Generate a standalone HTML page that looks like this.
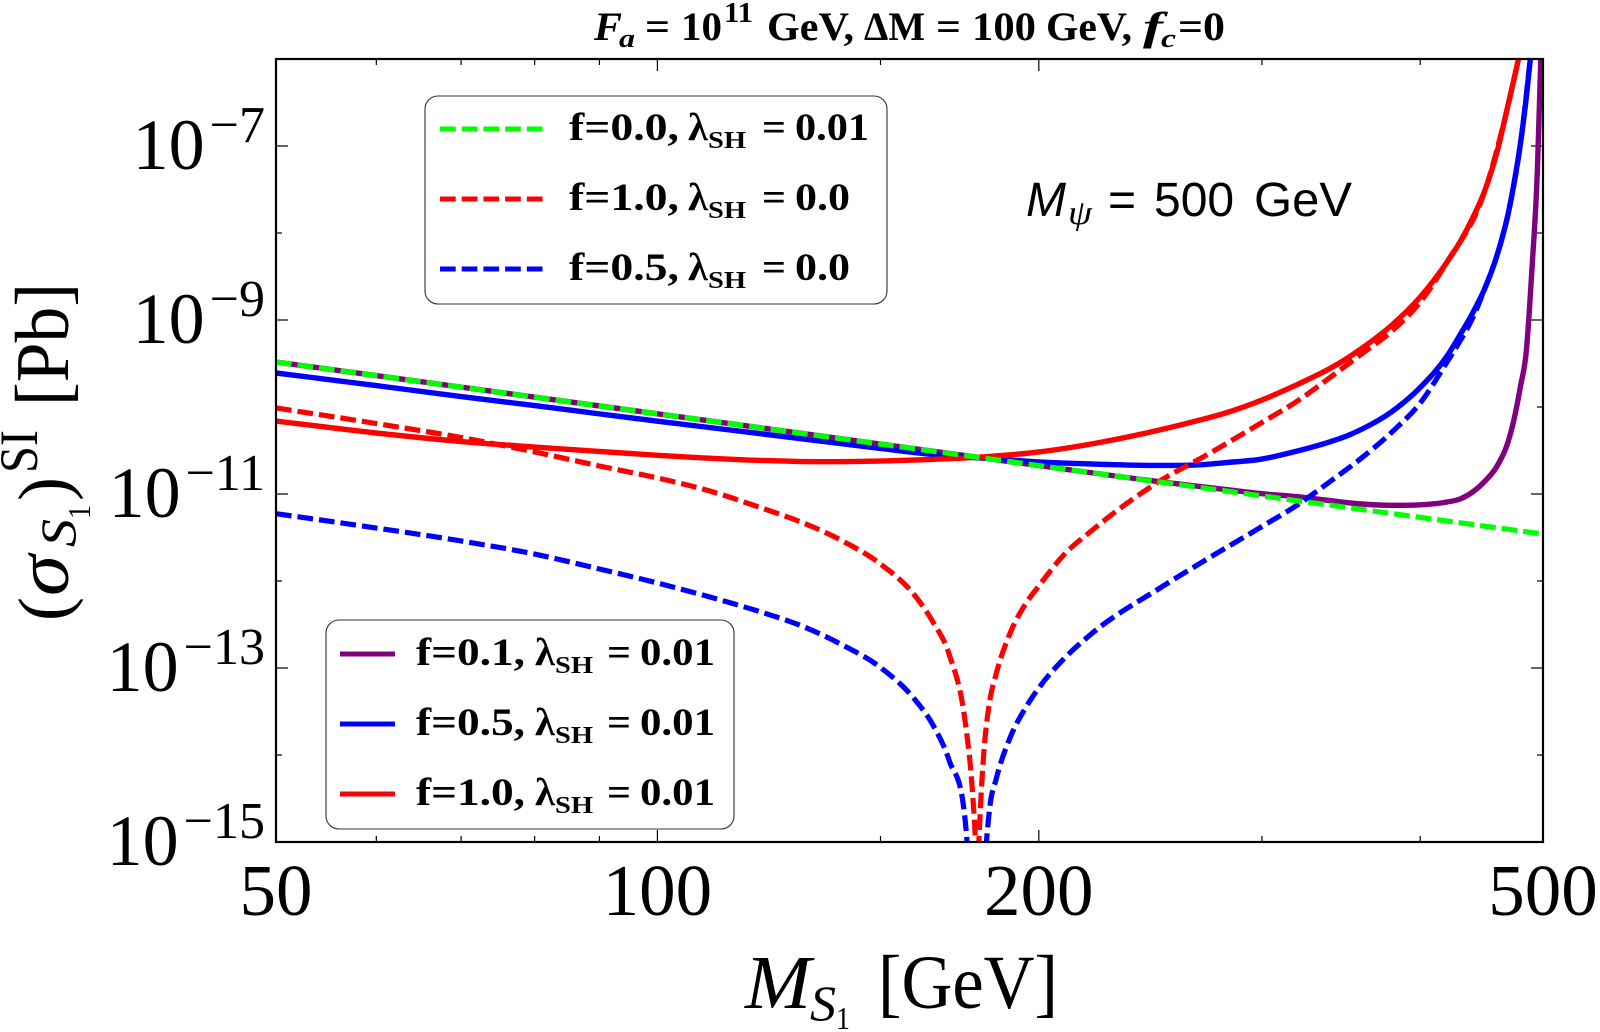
<!DOCTYPE html>
<html lang="en">
<head>
<meta charset="utf-8">
<title>Spin-independent cross section versus scalar mass</title>
<style>
html,body{margin:0;padding:0;background:#fff;width:1600px;height:1032px;overflow:hidden}
svg{display:block}
text{font-family:"Liberation Serif","DejaVu Serif",serif;fill:#000}
.b{font-weight:bold}
.i{font-style:italic}
.s{font-family:"Liberation Sans","DejaVu Sans",sans-serif}
</style>
</head>
<body>
<svg id="chart" xmlns="http://www.w3.org/2000/svg" width="1600" height="1032" viewBox="0 0 1600 1032">
  <rect width="1600" height="1032" fill="#fff"/>
  <defs><clipPath id="plot-clip"><rect x="276" y="59" width="1267" height="783"/></clipPath></defs>

  <g font-size="40">
    <text class="b i" x="594" y="40" textLength="28" lengthAdjust="spacingAndGlyphs">F</text>
    <text class="b i" x="619" y="47" font-size="26" textLength="16" lengthAdjust="spacingAndGlyphs">a</text>
    <text class="b" x="645" y="40" textLength="25" lengthAdjust="spacingAndGlyphs">=</text>
    <text class="b" x="681" y="40" textLength="41" lengthAdjust="spacingAndGlyphs">10</text>
    <text class="b" x="724" y="22" font-size="29" textLength="29" lengthAdjust="spacingAndGlyphs">11</text>
    <text class="b" x="767" y="40" textLength="87" lengthAdjust="spacingAndGlyphs">GeV,</text>
    <text class="b" x="864" y="40" textLength="61" lengthAdjust="spacingAndGlyphs">ΔM</text>
    <text class="b" x="936" y="40" textLength="25" lengthAdjust="spacingAndGlyphs">=</text>
    <text class="b" x="972" y="40" textLength="64" lengthAdjust="spacingAndGlyphs">100</text>
    <text class="b" x="1046" y="40" textLength="86" lengthAdjust="spacingAndGlyphs">GeV,</text>
    <text class="b i" x="1143" y="40" textLength="20" lengthAdjust="spacingAndGlyphs">f</text>
    <text class="b i" x="1161" y="47" font-size="26" textLength="15" lengthAdjust="spacingAndGlyphs">c</text>
    <text class="b" x="1178" y="40" textLength="47" lengthAdjust="spacingAndGlyphs">=0</text>
  </g>

  <g id="ticks"></g>
  <g id="tick-labels"></g>
  <g id="curves" clip-path="url(#plot-clip)" fill="none"></g>
  <rect x="276" y="59" width="1267" height="783" fill="none" stroke="#000" stroke-width="2.2"/>

  <g>
    <text class="i" x="745" y="1008" font-size="76" textLength="66" lengthAdjust="spacingAndGlyphs">M</text>
    <text class="i" x="810" y="1020" font-size="50" textLength="26" lengthAdjust="spacingAndGlyphs">S</text>
    <text x="836" y="1029" font-size="32" textLength="14" lengthAdjust="spacingAndGlyphs">1</text>
    <text x="878" y="1008" font-size="76" textLength="180" lengthAdjust="spacingAndGlyphs">[GeV]</text>
  </g>

  <g>
    <text transform="translate(68,621) rotate(-90)" font-size="72">(</text>
    <text class="i" transform="translate(68,596) rotate(-90)" font-size="76" textLength="41" lengthAdjust="spacingAndGlyphs">σ</text>
    <text class="i" transform="translate(75,547) rotate(-90)" font-size="50" textLength="28" lengthAdjust="spacingAndGlyphs">S</text>
    <text transform="translate(90,519) rotate(-90)" font-size="32" textLength="14" lengthAdjust="spacingAndGlyphs">1</text>
    <text transform="translate(68,501) rotate(-90)" font-size="72">)</text>
    <text transform="translate(37,473) rotate(-90)" font-size="54" textLength="43" lengthAdjust="spacingAndGlyphs">SI</text>
    <text transform="translate(68,406) rotate(-90)" font-size="76" textLength="123" lengthAdjust="spacingAndGlyphs">[Pb]</text>
  </g>

  <g>
    <rect x="425" y="96" width="462" height="208" rx="13" fill="#fff" stroke="#333" stroke-width="1.1"/>
    <g>
      <line x1="440" x2="545" y1="129" y2="129" stroke="#00ff00" stroke-width="5" stroke-dasharray="15.7 6"/>
      <text class="b" x="569" y="140" font-size="39" textLength="110" lengthAdjust="spacingAndGlyphs">f=0.0,</text>
      <text class="b" x="688" y="140" font-size="39" textLength="20" lengthAdjust="spacingAndGlyphs">λ</text>
      <text class="b" x="708" y="148" font-size="24" textLength="38" lengthAdjust="spacingAndGlyphs">SH</text>
      <text class="b" x="762" y="140" font-size="39" textLength="24" lengthAdjust="spacingAndGlyphs">=</text>
      <text class="b" x="795" y="140" font-size="39" textLength="74" lengthAdjust="spacingAndGlyphs">0.01</text>
    </g>
    <g>
      <line x1="440" x2="545" y1="199" y2="199" stroke="#ff0000" stroke-width="5" stroke-dasharray="15.7 6"/>
      <text class="b" x="569" y="210" font-size="39" textLength="110" lengthAdjust="spacingAndGlyphs">f=1.0,</text>
      <text class="b" x="688" y="210" font-size="39" textLength="20" lengthAdjust="spacingAndGlyphs">λ</text>
      <text class="b" x="708" y="218" font-size="24" textLength="38" lengthAdjust="spacingAndGlyphs">SH</text>
      <text class="b" x="762" y="210" font-size="39" textLength="24" lengthAdjust="spacingAndGlyphs">=</text>
      <text class="b" x="795" y="210" font-size="39" textLength="55" lengthAdjust="spacingAndGlyphs">0.0</text>
    </g>
    <g>
      <line x1="440" x2="545" y1="269" y2="269" stroke="#0000ff" stroke-width="5" stroke-dasharray="15.7 6"/>
      <text class="b" x="569" y="280" font-size="39" textLength="110" lengthAdjust="spacingAndGlyphs">f=0.5,</text>
      <text class="b" x="688" y="280" font-size="39" textLength="20" lengthAdjust="spacingAndGlyphs">λ</text>
      <text class="b" x="708" y="288" font-size="24" textLength="38" lengthAdjust="spacingAndGlyphs">SH</text>
      <text class="b" x="762" y="280" font-size="39" textLength="24" lengthAdjust="spacingAndGlyphs">=</text>
      <text class="b" x="795" y="280" font-size="39" textLength="55" lengthAdjust="spacingAndGlyphs">0.0</text>
    </g>
  </g>

  <g>
    <rect x="326" y="620" width="408" height="209" rx="13" fill="#fff" stroke="#333" stroke-width="1.1"/>
    <g>
      <line x1="340" x2="395" y1="654" y2="654" stroke="#800080" stroke-width="5"/>
      <text class="b" x="416" y="665" font-size="39" textLength="109" lengthAdjust="spacingAndGlyphs">f=0.1,</text>
      <text class="b" x="535" y="665" font-size="39" textLength="20" lengthAdjust="spacingAndGlyphs">λ</text>
      <text class="b" x="555" y="673" font-size="24" textLength="38" lengthAdjust="spacingAndGlyphs">SH</text>
      <text class="b" x="607" y="665" font-size="39" textLength="24" lengthAdjust="spacingAndGlyphs">=</text>
      <text class="b" x="640" y="665" font-size="39" textLength="75" lengthAdjust="spacingAndGlyphs">0.01</text>
    </g>
    <g>
      <line x1="340" x2="395" y1="724" y2="724" stroke="#0000ff" stroke-width="5"/>
      <text class="b" x="416" y="735" font-size="39" textLength="109" lengthAdjust="spacingAndGlyphs">f=0.5,</text>
      <text class="b" x="535" y="735" font-size="39" textLength="20" lengthAdjust="spacingAndGlyphs">λ</text>
      <text class="b" x="555" y="743" font-size="24" textLength="38" lengthAdjust="spacingAndGlyphs">SH</text>
      <text class="b" x="607" y="735" font-size="39" textLength="24" lengthAdjust="spacingAndGlyphs">=</text>
      <text class="b" x="640" y="735" font-size="39" textLength="75" lengthAdjust="spacingAndGlyphs">0.01</text>
    </g>
    <g>
      <line x1="340" x2="395" y1="794" y2="794" stroke="#ff0000" stroke-width="5"/>
      <text class="b" x="416" y="805" font-size="39" textLength="109" lengthAdjust="spacingAndGlyphs">f=1.0,</text>
      <text class="b" x="535" y="805" font-size="39" textLength="20" lengthAdjust="spacingAndGlyphs">λ</text>
      <text class="b" x="555" y="813" font-size="24" textLength="38" lengthAdjust="spacingAndGlyphs">SH</text>
      <text class="b" x="607" y="805" font-size="39" textLength="24" lengthAdjust="spacingAndGlyphs">=</text>
      <text class="b" x="640" y="805" font-size="39" textLength="75" lengthAdjust="spacingAndGlyphs">0.01</text>
    </g>
  </g>

  <g>
    <text class="s i" x="1026" y="216" font-size="48">M</text>
    <text class="i" x="1068" y="224" font-size="34" textLength="24" lengthAdjust="spacingAndGlyphs">ψ</text>
    <text class="s" x="1108" y="216" font-size="48">=</text>
    <text class="s" x="1154" y="216" font-size="48">500</text>
    <text class="s" x="1254" y="216" font-size="48" textLength="98" lengthAdjust="spacingAndGlyphs">GeV</text>
  </g>
</svg>

<script>
// Axis tick values
const xMajorTicks = [100, 200];
const xMinorTicks = [60, 70, 80, 90, 150, 300, 400];
const xTickLabels = [50, 100, 200, 500];
const yMajorExponents = [-7, -9, -11, -13, -15];
const yMinorExponents = [-8, -10, -12, -14];

// Series values: mass in GeV, and log10 of the cross section in pb
const massFlat = [50, 100, 180, 200, 300, 500];
const logSigmaGreenDashed = [-9.483, -10.078, -10.583, -10.673, -11.022, -11.460];

const massPurple = [50, 100, 150, 200, 250, 280, 300, 320, 340, 360, 380, 400, 420, 430, 440, 450, 460, 470, 475, 480, 485, 490, 495, 498, 499];
const logSigmaPurple = [-9.483, -10.078, -10.426, -10.673, -10.862, -10.946, -10.997, -11.031, -11.077, -11.115, -11.130, -11.124, -11.092, -11.057, -10.977, -10.851, -10.678, -10.368, -10.103, -9.759, -9.368, -8.425, -7.253, -6.011, -5.5];

const massBlue = [50, 60, 70, 80, 90, 100, 120, 150, 170, 180, 200, 220, 250, 270, 280, 300, 320, 340, 350, 360, 380, 400, 420, 430, 440, 450, 460, 470, 475, 480, 485, 490];
const logSigmaBlue = [-9.609, -9.754, -9.880, -9.984, -10.079, -10.163, -10.303, -10.477, -10.563, -10.586, -10.632, -10.655, -10.672, -10.661, -10.641, -10.598, -10.506, -10.397, -10.333, -10.253, -10.052, -9.776, -9.414, -9.172, -8.920, -8.632, -8.253, -7.736, -7.379, -6.966, -6.448, -5.828];

const massRed = [50, 60, 70, 80, 90, 100, 120, 135, 150, 170, 180, 200, 220, 250, 270, 280, 300, 320, 340, 350, 360, 380, 400, 420, 430, 440, 450, 460, 470, 475, 480];
const logSigmaRed = [-10.161, -10.299, -10.397, -10.460, -10.511, -10.555, -10.613, -10.629, -10.621, -10.594, -10.575, -10.517, -10.425, -10.259, -10.138, -10.075, -9.920, -9.741, -9.552, -9.443, -9.322, -9.057, -8.736, -8.333, -8.103, -7.828, -7.506, -7.064, -6.483, -6.190, -5.897];

const massRedDashed = [50, 60, 70, 80, 90, 100, 110, 120, 130, 140, 150, 160, 165, 170, 175, 177, 178, 178.8, 179.6, 180, 181, 183, 185, 190, 195, 200, 210, 220, 250, 270, 300, 320, 340, 360, 380, 400, 420, 450, 470, 480];
const logSigmaRedDashed = [-10.011, -10.190, -10.351, -10.517, -10.678, -10.816, -10.966, -11.146, -11.326, -11.540, -11.805, -12.184, -12.471, -12.851, -13.632, -14.287, -14.805, -15.3, -14.805, -14.517, -13.966, -13.368, -13.080, -12.586, -12.276, -12.057, -11.678, -11.425, -10.839, -10.569, -10.178, -9.931, -9.655, -9.385, -9.126, -8.793, -8.333, -7.51, -6.49, -5.90];

const massBlueDashed = [50, 60, 70, 80, 90, 100, 110, 120, 130, 140, 150, 160, 165, 170, 175, 176.5, 178.8, 181, 182, 183, 185, 190, 195, 200, 210, 220, 250, 270, 300, 320, 340, 360, 380, 400, 420, 430, 440, 450, 460, 470, 480, 490];
const logSigmaBlueDashed = [-11.226, -11.391, -11.540, -11.690, -11.862, -12.023, -12.184, -12.345, -12.517, -12.736, -12.994, -13.379, -13.655, -14.069, -14.770, -15.4, -16, -15.4, -14.931, -14.586, -14.287, -13.787, -13.471, -13.230, -12.874, -12.609, -12.069, -11.770, -11.374, -11.126, -10.851, -10.580, -10.287, -9.954, -9.483, -9.241, -8.977, -8.632, -8.253, -7.736, -6.966, -5.828];

const SVG_NS = 'http://www.w3.org/2000/svg';
const plotLeft = 276, plotRight = 1543, plotTop = 59, plotBottom = 842;
const xMin = 50, xMax = 500, yMinExp = -15, yMaxExp = -6;

function xScale(m) {
  return plotLeft + (Math.log10(m) - Math.log10(xMin)) / (Math.log10(xMax) - Math.log10(xMin)) * (plotRight - plotLeft);
}
function yScale(logValue) {
  return plotBottom - (logValue - yMinExp) / (yMaxExp - yMinExp) * (plotBottom - plotTop);
}
function smoothPath(masses, logs) {
  const px = masses.map(xScale);
  const py = logs.map(yScale);
  const n = px.length;
  const slopes = [];
  for (let i = 0; i < n - 1; i++) {
    slopes.push((py[i + 1] - py[i]) / (px[i + 1] - px[i]));
  }
  const tangents = new Array(n);
  tangents[0] = slopes[0];
  tangents[n - 1] = slopes[n - 2];
  for (let i = 1; i < n - 1; i++) {
    if (slopes[i - 1] * slopes[i] <= 0) {
      tangents[i] = 0;
    } else {
      const h0 = px[i] - px[i - 1], h1 = px[i + 1] - px[i];
      const p = (slopes[i - 1] * h1 + slopes[i] * h0) / (h0 + h1);
      const limit = 3 * Math.min(Math.abs(slopes[i - 1]), Math.abs(slopes[i]));
      tangents[i] = Math.sign(p) * Math.min(Math.abs(p), limit);
    }
  }
  let d = 'M' + px[0].toFixed(2) + ',' + py[0].toFixed(2);
  for (let i = 0; i < n - 1; i++) {
    const h = (px[i + 1] - px[i]) / 3;
    d += 'C' + (px[i] + h).toFixed(2) + ',' + (py[i] + h * tangents[i]).toFixed(2) + ' ' +
      (px[i + 1] - h).toFixed(2) + ',' + (py[i + 1] - h * tangents[i + 1]).toFixed(2) + ' ' +
      px[i + 1].toFixed(2) + ',' + py[i + 1].toFixed(2);
  }
  return d;
}

const tickLayer = document.getElementById('ticks');
const labelLayer = document.getElementById('tick-labels');
const curveLayer = document.getElementById('curves');

function addTick(x1, y1, x2, y2, name) {
  const t = document.createElementNS(SVG_NS, 'line');
  
  
  t.setAttribute('x1', x1);
  t.setAttribute('y1', y1);
  t.setAttribute('x2', x2);
  t.setAttribute('y2', y2);
  t.setAttribute('stroke', '#000');
  t.setAttribute('stroke-width', '1.2');
  tickLayer.appendChild(t);
}

xMajorTicks.forEach(function (m) {
  addTick(xScale(m), plotBottom, xScale(m), plotBottom - 12, 'x-major-tick-bottom');
  addTick(xScale(m), plotTop, xScale(m), plotTop + 12, 'x-major-tick-top');
});
xMinorTicks.forEach(function (m) {
  addTick(xScale(m), plotBottom, xScale(m), plotBottom - 6, 'x-minor-tick-bottom');
  addTick(xScale(m), plotTop, xScale(m), plotTop + 6, 'x-minor-tick-top');
});
yMajorExponents.forEach(function (e) {
  addTick(plotLeft, yScale(e), plotLeft + 12, yScale(e), 'y-major-tick-left');
  addTick(plotRight, yScale(e), plotRight - 12, yScale(e), 'y-major-tick-right');
});
yMinorExponents.forEach(function (e) {
  addTick(plotLeft, yScale(e), plotLeft + 6, yScale(e), 'y-minor-tick-left');
  addTick(plotRight, yScale(e), plotRight - 6, yScale(e), 'y-minor-tick-right');
});

xTickLabels.forEach(function (m) {
  const label = document.createElementNS(SVG_NS, 'text');
  
  
  label.setAttribute('x', xScale(m));
  label.setAttribute('y', 915);
  label.setAttribute('font-size', '73');
  label.setAttribute('text-anchor', 'middle');
  label.textContent = String(m);
  labelLayer.appendChild(label);
});

yMajorExponents.forEach(function (e) {
  const label = document.createElementNS(SVG_NS, 'text');
  
  
  label.setAttribute('x', 265);
  label.setAttribute('y', yScale(e) + 23);
  label.setAttribute('text-anchor', 'end');
  const base = document.createElementNS(SVG_NS, 'tspan');
  base.setAttribute('font-size', '72');
  base.textContent = '10';
  const power = document.createElementNS(SVG_NS, 'tspan');
  power.setAttribute('font-size', '52');
  power.setAttribute('dy', '-27');
  power.setAttribute('dx', '5');
  power.textContent = '\u2212' + Math.abs(e);
  label.appendChild(base);
  label.appendChild(power);
  labelLayer.appendChild(label);
});

function addCurve(masses, logs, color, dashed, name) {
  const p = document.createElementNS(SVG_NS, 'path');
  
  
  p.setAttribute('d', smoothPath(masses, logs));
  p.setAttribute('stroke', color);
  p.setAttribute('stroke-width', dashed ? '5.2' : '5.4');
  if (dashed) {
    p.setAttribute('stroke-dasharray', '15.7 6');
  }
  curveLayer.appendChild(p);
}

addCurve(massPurple, logSigmaPurple, '#800080', false, 'curve-f01-lambda001');
addCurve(massBlue, logSigmaBlue, '#0000ff', false, 'curve-f05-lambda001');
addCurve(massRed, logSigmaRed, '#ff0000', false, 'curve-f1-lambda001');
addCurve(massRedDashed, logSigmaRedDashed, '#ff0000', true, 'curve-f1-lambda0');
addCurve(massBlueDashed, logSigmaBlueDashed, '#0000ff', true, 'curve-f05-lambda0');
addCurve(massFlat, logSigmaGreenDashed, '#00ff00', true, 'curve-f0-lambda001');
</script>
</body>
</html>
